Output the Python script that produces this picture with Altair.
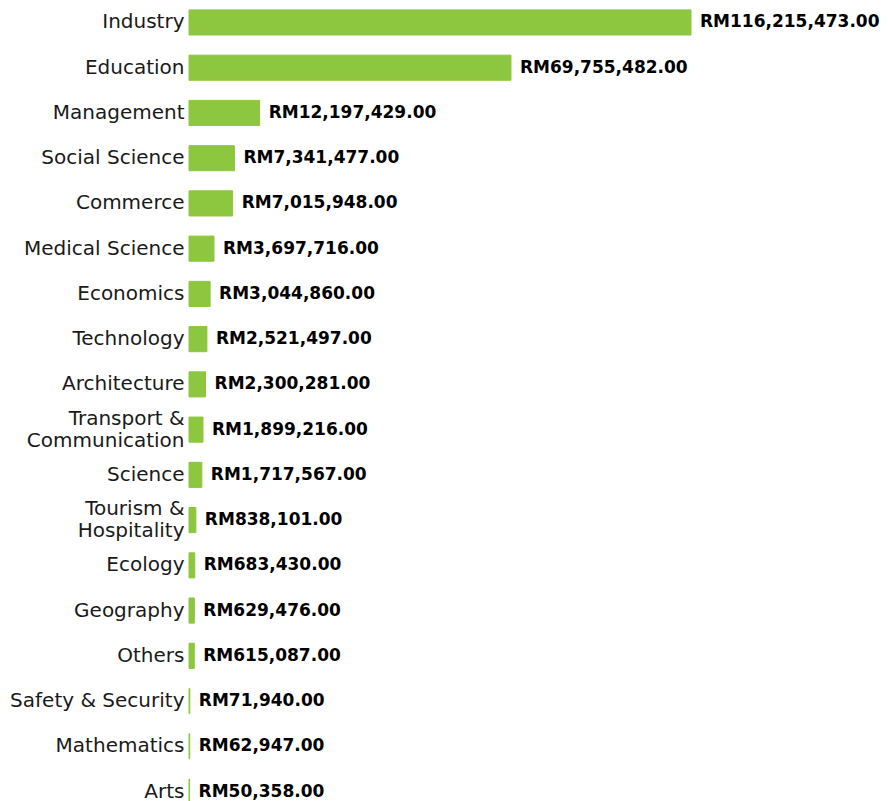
import altair as alt
import pandas as pd

categories = [
    "Industry", "Education", "Management", "Social Science", "Commerce",
    "Medical Science", "Economics", "Technology", "Architecture",
    "Transport &\nCommunication", "Science", "Tourism &\nHospitality",
    "Ecology", "Geography", "Others", "Safety & Security", "Mathematics", "Arts",
]
values = [
    116215473, 69755482, 12197429, 7341477, 7015948,
    3697716, 3044860, 2521497, 2300281,
    1899216, 1717567, 838101,
    683430, 629476, 615087, 71940, 62947, 50358,
]

df = pd.DataFrame({"category": categories, "value": values})

GREEN = "#8DC63F"

y_enc = alt.Y(
    "category:N",
    sort=categories,
    scale=alt.Scale(paddingInner=0.445, paddingOuter=0.02, range=[1, 797]),
    axis=alt.Axis(
        title=None, domain=False, ticks=False, tickSize=0, grid=False,
        labelPadding=5, labelFont="DejaVu Sans", labelFontSize=20,
        labelColor="#1a1a1a", labelLimit=400, labelLineHeight=22,
        labelExpr="split(datum.label, '\\n')",
        labelOffset={"condition": {"test": "indexof(datum.value, '\\n') >= 0", "value": -11}, "value": 0},
    ),
)
x_scale = alt.Scale(type="pow", exponent=0.87, domain=[0, 116215473], range=[0, 502])

bars = alt.Chart(df).mark_bar(color=GREEN, stroke=GREEN, strokeWidth=1).encode(
    x=alt.X("value:Q", scale=x_scale, axis=None),
    y=y_enc,
)

labels = alt.Chart(df).transform_calculate(
    txt="'RM' + format(datum.value, ',.2f')"
).mark_text(
    align="left", baseline="middle", dx=9, font="DejaVu Sans",
    fontWeight="bold", fontSize=17, color="#000000",
).encode(
    x=alt.X("value:Q", scale=x_scale, axis=None),
    y=y_enc,
    text="txt:N",
)

chart = alt.layer(bars, labels).properties(
    width=691, height=793,
    autosize=alt.AutoSizeParams(type="none"),
    padding={"left": 181, "top": 0, "right": 0, "bottom": 0},
).configure_view(stroke=None)

chart.save("out.html", embed_options={"renderer": "svg", "actions": False})
